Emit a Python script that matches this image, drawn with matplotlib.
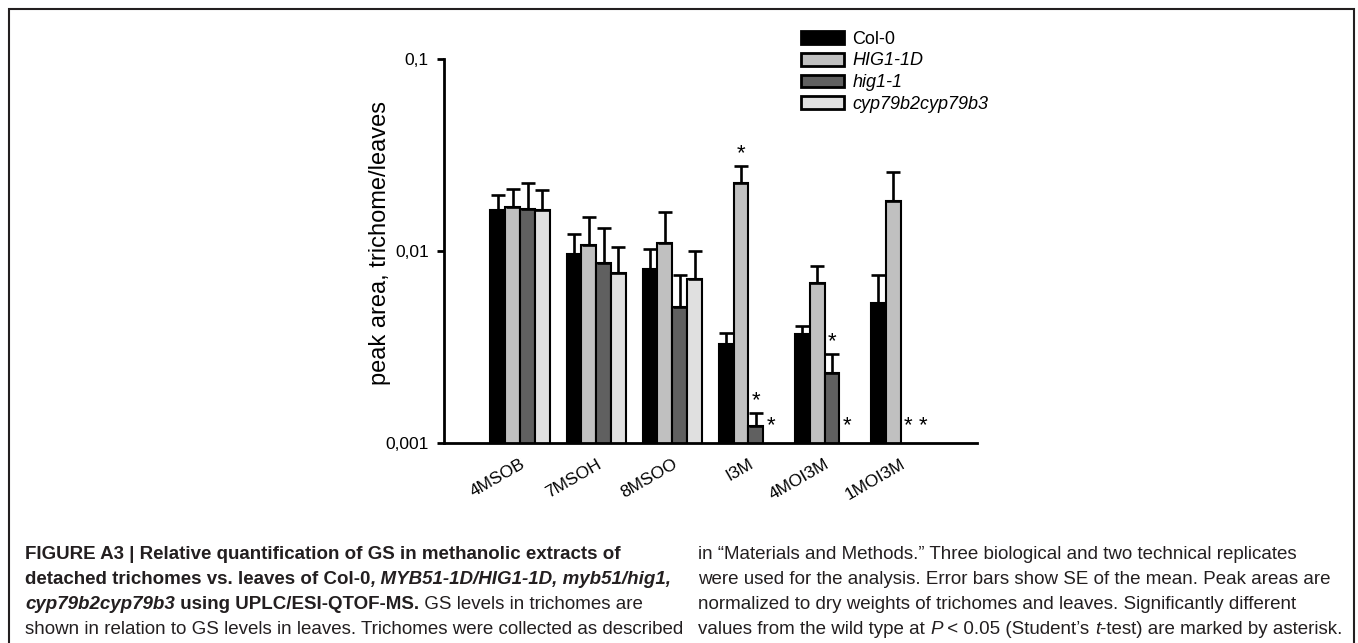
import numpy as np
import matplotlib
matplotlib.use('Agg')
import matplotlib.pyplot as plt
from matplotlib.patches import Rectangle
from matplotlib.ticker import NullLocator

plt.rcParams['font.family'] = ['Liberation Sans', 'DejaVu Sans']

W, H = 1358, 643

compounds = ['4MSOB', '7MSOH', '8MSOO', 'I3M', '4MOI3M', '1MOI3M']
genotypes = ['Col-0', 'HIG1-1D', 'hig1-1', 'cyp79b2cyp79b3']
colors = ['#000000', '#c0c0c0', '#606060', '#e0e0e0']

# peak area ratio trichome/leaves (nan = not detected)
col0 = [0.0163, 0.0096, 0.0080, 0.00327, 0.00367, 0.00532]
hig1_1d = [0.0168, 0.0107, 0.0110, 0.0226, 0.00681, 0.0182]
hig1_1 = [0.0164, 0.0086, 0.00507, 0.00122, 0.00232, np.nan]
cyp = [0.0163, 0.00768, 0.00712, np.nan, np.nan, np.nan]

# SE of the mean (upper bars only)
col0_se = [0.0032, 0.00256, 0.00226, 0.00045, 0.00038, 0.00213]
hig1_1d_se = [0.0041, 0.0043, 0.0050, 0.0050, 0.00151, 0.0074]
hig1_1_se = [0.0060, 0.0046, 0.0024, 0.00021, 0.00057, np.nan]
cyp_se = [0.0044, 0.0028, 0.0028, np.nan, np.nan, np.nan]

# (compound index, genotype index) significantly different from Col-0
significant = [(3, 1), (3, 2), (3, 3), (4, 2), (4, 3), (5, 2), (5, 3)]

means = [col0, hig1_1d, hig1_1, cyp]
errs = [col0_se, hig1_1d_se, hig1_1_se, cyp_se]

fig = plt.figure(figsize=(W / 100, H / 100), dpi=100)
ax = fig.add_axes([444 / W, 1 - 442.7 / H, (976.7 - 444) / W, (442.7 - 58.7) / H])

x = np.arange(len(compounds))
w = 0.195
offsets = (np.arange(4) - 1.5) * w

for i in range(4):
    ax.bar(x + offsets[i], means[i], w, color=colors[i], edgecolor='black',
           linewidth=1.5, label=genotypes[i])
for i in range(4):
    m = np.array(means[i])
    e = np.array(errs[i])
    ax.errorbar(x + offsets[i], m, yerr=[np.zeros_like(e), e], fmt='none',
                ecolor='black', elinewidth=1.9, capsize=5.3, capthick=1.9)

# asterisks
for g, s in significant:
    m = means[s][g]
    if np.isnan(m):
        ax.annotate('*', xy=(x[g] + offsets[s], 0.001), xytext=(0, 8),
                    textcoords='offset points', ha='center', va='baseline', fontsize=16)
    else:
        ax.annotate('*', xy=(x[g] + offsets[s], m + errs[s][g]), xytext=(0, 5),
                    textcoords='offset points', ha='center', va='baseline', fontsize=16)

ax.set_yscale('log')
ax.set_ylim(0.001, 0.1)
ax.set_xlim(-1.0, 6.0)
ax.set_yticks([0.001, 0.01, 0.1])
ax.set_yticklabels(['0,001', '0,01', '0,1'])
ax.yaxis.set_minor_locator(NullLocator())
ax.set_xticks(x)
ax.set_xticklabels(compounds, rotation=30, ha='right', va='top', rotation_mode='anchor', fontsize=12.5)
ax.tick_params(axis='x', length=0, pad=10)
ax.tick_params(axis='y', length=5, width=2, labelsize=12.5, pad=6)
for side in ['top', 'right']:
    ax.spines[side].set_visible(False)
for side in ['left', 'bottom']:
    ax.spines[side].set_linewidth(2)
ax.set_ylabel('peak area, trichome/leaves', fontsize=17, va='center')
ax.yaxis.set_label_coords(-0.120, 0.52)

leg = ax.legend(loc='upper left', bbox_to_anchor=(800.7 / W, 1 - 30.5 / H),
                bbox_transform=fig.transFigure, frameon=False, fontsize=13,
                handlelength=2.38, handleheight=0.72, handletextpad=0.48,
                labelspacing=0.27, borderpad=0, borderaxespad=0)
for t in leg.get_texts()[1:]:
    t.set_fontstyle('italic')
for h in leg.legend_handles:
    h.set_linewidth(2)

# frame around the figure panel
fig.add_artist(Rectangle((9.3 / W, -0.05), (1354.3 - 9.3) / W, 1.05 - 9.3 / H,
                         transform=fig.transFigure, fill=False, lw=1.5, ec='#231f20'))

# caption
cap = fig.add_axes([0, 0, 1, 1])
cap.set_axis_off()
cap_fs = 13.5
cap_color = '#231f20'


def caption_line(px, py, parts):
    prev = None
    for txt, weight, style in parts:
        kw = dict(fontsize=cap_fs, fontweight=weight, fontstyle=style, color=cap_color)
        if prev is None:
            prev = cap.text(px / W, 1 - py / H, txt, ha='left', va='baseline',
                            transform=cap.transAxes, **kw)
        else:
            prev = cap.annotate(txt, xy=(1, 0), xycoords=prev, ha='left', va='bottom', **kw)


B, I, BI, R = ('bold', 'normal'), ('normal', 'italic'), ('bold', 'italic'), ('normal', 'normal')
left_lines = [
    [('FIGURE A3 | Relative quantification of GS in methanolic extracts of', *B)],
    [('detached trichomes vs. leaves of Col-0', *B), (', MYB51-1D/HIG1-1D, myb51/hig1,', *BI)],
    [('cyp79b2cyp79b3', *BI), (' using UPLC/ESI-QTOF-MS.', *B), (' GS levels in trichomes are', *R)],
    [('shown in relation to GS levels in leaves. Trichomes were collected as described', *R)],
]
right_lines = [
    [('in \u201cMaterials and Methods.\u201d Three biological and two technical replicates', *R)],
    [('were used for the analysis. Error bars show SE of the mean. Peak areas are', *R)],
    [('normalized to dry weights of trichomes and leaves. Significantly different', *R)],
    [('values from the wild type at ', *R), ('P', *I), (' < 0.05 (Student\u2019s ', *R), ('t', *I),
     ('-test) are marked by asterisk.', *R)],
]
for k, parts in enumerate(left_lines):
    caption_line(25, 559 + 25 * k, parts)
for k, parts in enumerate(right_lines):
    caption_line(698, 559 + 25 * k, parts)

fig.savefig('out.png', dpi=100)
